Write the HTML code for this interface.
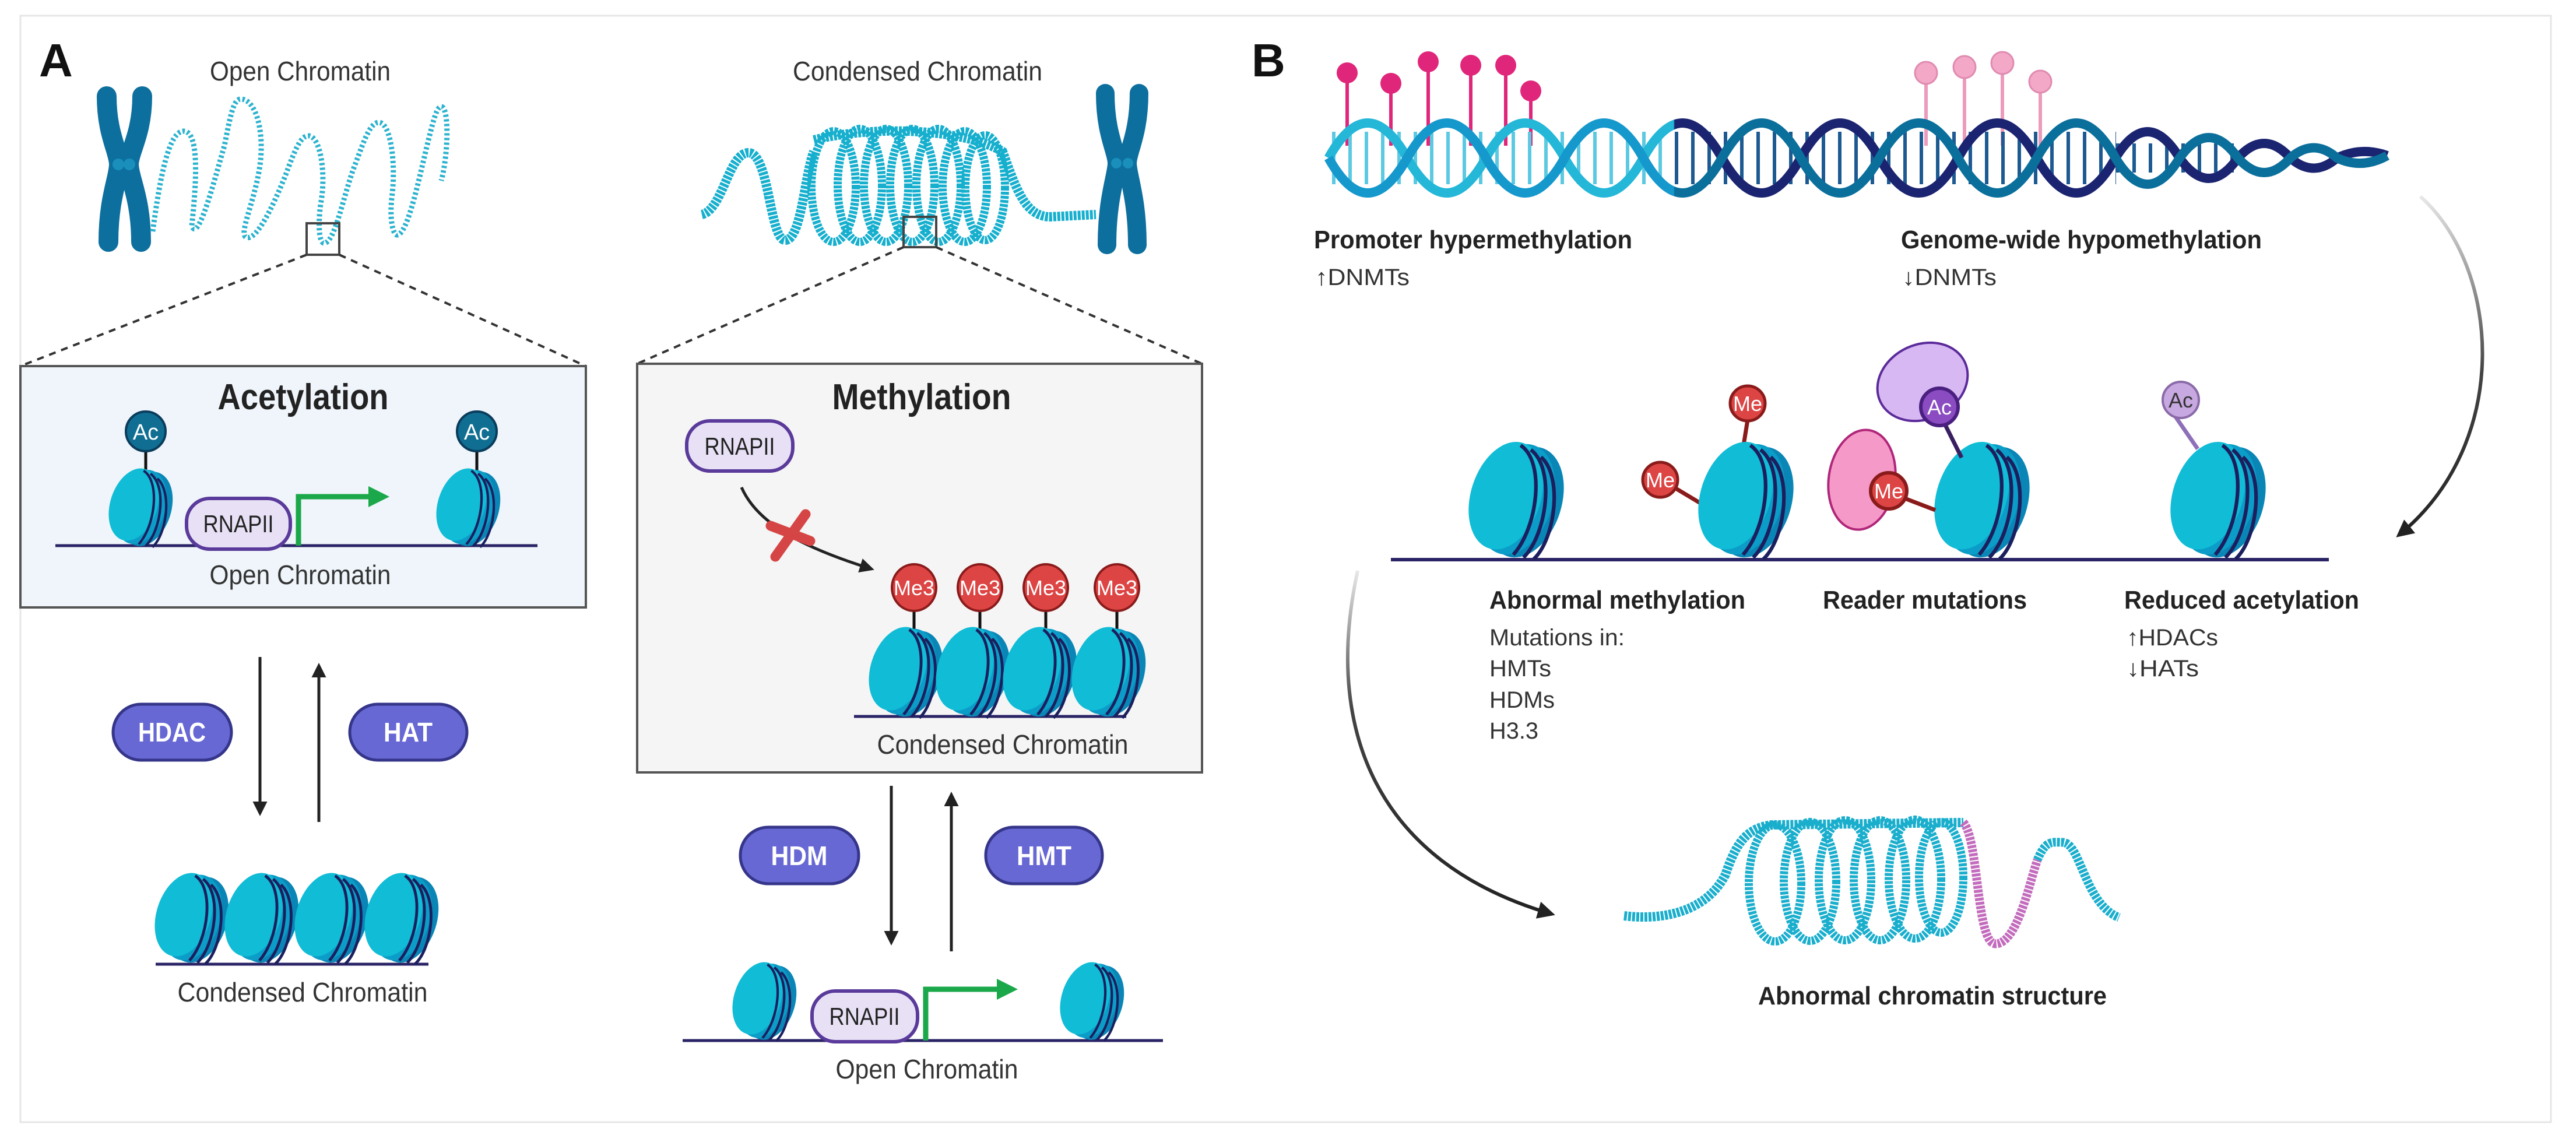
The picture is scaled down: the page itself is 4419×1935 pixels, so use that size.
<!DOCTYPE html>
<html><head><meta charset="utf-8"><style>
html,body{margin:0;padding:0;background:#fff;}
svg{display:block;}
text{font-family:"Liberation Sans",sans-serif;}
</style></head><body>
<svg width="4419" height="1935" viewBox="0 0 4419 1935" xmlns="http://www.w3.org/2000/svg">
<defs>
<g id="nuc">
 <ellipse cx="16" cy="6" rx="50" ry="78" transform="rotate(18 16 6)" fill="#0a86b6"/>
 <ellipse cx="4" cy="2" rx="50" ry="78" transform="rotate(18 4 2)" fill="#0b9dc8"/>
 <ellipse cx="-10" cy="-3" rx="48" ry="76" transform="rotate(18 -10 -3)" fill="#10bcd6"/>
 <path d="M10 -72 C44 -50 34 40 0 78" fill="none" stroke="#1b1f5e" stroke-width="5"/>
 <path d="M24 -66 C58 -40 46 50 14 82" fill="none" stroke="#1b1f5e" stroke-width="5"/>
 <path d="M38 -56 C68 -30 58 56 28 84" fill="none" stroke="#1b1f5e" stroke-width="5"/>
</g>
<marker id="ah" viewBox="0 0 10 10" refX="8" refY="5" markerWidth="5" markerHeight="5" orient="auto"><path d="M0 0 L10 5 L0 10 z" fill="#222"/></marker>
<marker id="gh" viewBox="0 0 10 10" refX="5" refY="5" markerWidth="4" markerHeight="4" orient="auto"><path d="M0 0 L10 5 L0 10 z" fill="#1aa84a"/></marker>
<linearGradient id="s1" gradientUnits="userSpaceOnUse" x1="2279" y1="0" x2="4095" y2="0">
 <stop offset="0" stop-color="#24b7d8"/><stop offset="0.326" stop-color="#24b7d8"/><stop offset="0.327" stop-color="#1b2470"/><stop offset="1" stop-color="#1b2470"/></linearGradient>
<linearGradient id="s2" gradientUnits="userSpaceOnUse" x1="2279" y1="0" x2="4095" y2="0">
 <stop offset="0" stop-color="#1598cc"/><stop offset="0.326" stop-color="#1598cc"/><stop offset="0.327" stop-color="#0b6f9c"/><stop offset="1" stop-color="#0b6f9c"/></linearGradient>
<linearGradient id="rg" gradientUnits="userSpaceOnUse" x1="2279" y1="0" x2="4095" y2="0">
 <stop offset="0" stop-color="#5cc9e2"/><stop offset="0.326" stop-color="#5cc9e2"/><stop offset="0.327" stop-color="#1d5a92"/><stop offset="1" stop-color="#1d5a92"/></linearGradient>
<linearGradient id="ag" gradientUnits="userSpaceOnUse" x1="0" y1="337" x2="0" y2="933">
 <stop offset="0" stop-color="#e8e8e8"/><stop offset="0.5" stop-color="#444"/><stop offset="1" stop-color="#222"/></linearGradient>
<linearGradient id="ag2" gradientUnits="userSpaceOnUse" x1="0" y1="979" x2="0" y2="1574">
 <stop offset="0" stop-color="#e8e8e8"/><stop offset="0.4" stop-color="#444"/><stop offset="1" stop-color="#222"/></linearGradient>
</defs>

<rect x="35" y="27" width="4341" height="1898" fill="none" stroke="#e6e6e6" stroke-width="3"/>

<!-- ===== Panel A ===== -->
<text x="67" y="131" font-size="80" font-weight="bold" fill="#111">A</text>
<text x="515" y="138" font-size="46" fill="#333" text-anchor="middle" textLength="310" lengthAdjust="spacingAndGlyphs">Open Chromatin</text>
<text x="1574" y="138" font-size="46" fill="#333" text-anchor="middle" textLength="428" lengthAdjust="spacingAndGlyphs">Condensed Chromatin</text>

<path d="M183 165 C183 230 204 260 204 282 C204 305 186 340 186 415" stroke="#0d6f9e" stroke-width="34" stroke-linecap="round" fill="none"/>
<path d="M244 165 C244 230 221 260 221 282 C221 305 242 340 242 415" stroke="#0d6f9e" stroke-width="34" stroke-linecap="round" fill="none"/>
<circle cx="203" cy="282" r="10" fill="#1a8fbc"/><circle cx="222" cy="282" r="10" fill="#1a8fbc"/>
<path d="M262 397 C275 300 290 225 315 225 C345 225 335 330 329 387 C340 420 370 300 385 250 C395 200 400 170 413 170 C440 170 455 230 445 290 C435 350 410 400 422 407 C440 415 470 350 490 300 C505 260 515 233 529 233 C550 233 560 300 550 350 C545 390 548 417 556 417 C575 417 590 330 610 280 C625 240 635 210 650 210 C670 210 680 280 672 340 C668 380 675 403 681 403 C700 403 720 300 735 240 C745 200 750 183 757 183 C770 183 770 260 757 310" fill="none" stroke="#2bb2cf" stroke-width="9" stroke-dasharray="4 4"/>
<rect x="526" y="383" width="56" height="54" fill="none" stroke="#444" stroke-width="4"/>
<line x1="526" y1="437" x2="35" y2="628" stroke="#333" stroke-width="4" stroke-dasharray="12 10"/>
<line x1="582" y1="437" x2="1005" y2="628" stroke="#333" stroke-width="4" stroke-dasharray="12 10"/>

<rect x="35" y="628" width="970" height="414" fill="#eff5fa" stroke="#555" stroke-width="4"/>
<text x="520" y="702" font-size="62" font-weight="bold" fill="#222" text-anchor="middle" textLength="293" lengthAdjust="spacingAndGlyphs">Acetylation</text>
<line x1="95" y1="936" x2="922" y2="936" stroke="#2a2466" stroke-width="5"/>
<line x1="250" y1="770" x2="250" y2="815" stroke="#111" stroke-width="5"/>
<line x1="818" y1="770" x2="818" y2="815" stroke="#111" stroke-width="5"/>
<use href="#nuc" transform="translate(238 868) scale(0.84)"/>
<use href="#nuc" transform="translate(800 868) scale(0.84)"/>
<circle cx="250" cy="740" r="34" fill="#0f6e92" stroke="#0a3c5c" stroke-width="4"/>
<text x="250" y="754" font-size="38" fill="#fff" text-anchor="middle">Ac</text>
<circle cx="818" cy="740" r="34" fill="#0f6e92" stroke="#0a3c5c" stroke-width="4"/>
<text x="818" y="754" font-size="38" fill="#fff" text-anchor="middle">Ac</text>
<rect x="320" y="855" width="178" height="87" rx="40" fill="#e8e1f6" stroke="#5a3a9a" stroke-width="6"/>
<text x="409" y="913" font-size="42" fill="#222" text-anchor="middle" textLength="121" lengthAdjust="spacingAndGlyphs">RNAPII</text>
<path d="M512 936 L512 852 L650 852" fill="none" stroke="#1aa84a" stroke-width="9" marker-end="url(#gh)"/>
<text x="515" y="1002" font-size="46" fill="#333" text-anchor="middle" textLength="311" lengthAdjust="spacingAndGlyphs">Open Chromatin</text>

<line x1="446" y1="1127" x2="446" y2="1395" stroke="#222" stroke-width="5" marker-end="url(#ah)"/>
<line x1="547" y1="1410" x2="547" y2="1142" stroke="#222" stroke-width="5" marker-end="url(#ah)"/>
<rect x="194" y="1208" width="203" height="96" rx="48" fill="#6768d4" stroke="#35358a" stroke-width="5"/>
<text x="295" y="1272" font-size="46" font-weight="bold" fill="#fff" text-anchor="middle" textLength="116" lengthAdjust="spacingAndGlyphs">HDAC</text>
<rect x="600" y="1208" width="201" height="96" rx="48" fill="#6768d4" stroke="#35358a" stroke-width="5"/>
<text x="700" y="1272" font-size="46" font-weight="bold" fill="#fff" text-anchor="middle" textLength="84" lengthAdjust="spacingAndGlyphs">HAT</text>

<line x1="267" y1="1654" x2="735" y2="1654" stroke="#2a2466" stroke-width="5"/>
<use href="#nuc" transform="translate(325 1572) scale(0.97)"/>
<use href="#nuc" transform="translate(445 1572) scale(0.97)"/>
<use href="#nuc" transform="translate(565 1572) scale(0.97)"/>
<use href="#nuc" transform="translate(685 1572) scale(0.97)"/>
<text x="519" y="1718" font-size="46" fill="#333" text-anchor="middle" textLength="429" lengthAdjust="spacingAndGlyphs">Condensed Chromatin</text>

<path d="M1204 368 C1240 360 1250 262 1284 262 C1320 262 1320 412 1347 412 C1375 412 1380 300 1396 260" fill="none" stroke="#16afce" stroke-width="16" stroke-dasharray="5 2"/>
<g fill="none" stroke="#16afce" stroke-width="14" stroke-dasharray="5 2">
 <ellipse cx="1430" cy="320" rx="38" ry="95"/>
 <ellipse cx="1475" cy="318" rx="38" ry="97"/>
 <ellipse cx="1520" cy="318" rx="38" ry="97"/>
 <ellipse cx="1565" cy="318" rx="38" ry="97"/>
 <ellipse cx="1610" cy="318" rx="38" ry="97"/>
 <ellipse cx="1655" cy="320" rx="38" ry="95"/>
 <ellipse cx="1690" cy="322" rx="34" ry="90"/>
</g>
<path d="M1396 240 C1500 215 1650 220 1720 260 C1745 330 1760 370 1800 372 L1880 368" fill="none" stroke="#16afce" stroke-width="16" stroke-dasharray="5 2"/>
<path d="M1896 160 C1896 230 1916 260 1916 280 C1916 300 1899 340 1899 420" stroke="#0d6f9e" stroke-width="32" stroke-linecap="round" fill="none"/>
<path d="M1954 160 C1954 230 1934 260 1934 280 C1934 300 1951 340 1951 420" stroke="#0d6f9e" stroke-width="32" stroke-linecap="round" fill="none"/>
<circle cx="1915" cy="280" r="9" fill="#1a8fbc"/><circle cx="1935" cy="280" r="9" fill="#1a8fbc"/>
<rect x="1550" y="372" width="56" height="52" fill="none" stroke="#444" stroke-width="4"/>
<line x1="1550" y1="424" x2="1093" y2="624" stroke="#333" stroke-width="4" stroke-dasharray="12 10"/>
<line x1="1606" y1="424" x2="2062" y2="624" stroke="#333" stroke-width="4" stroke-dasharray="12 10"/>

<rect x="1093" y="624" width="969" height="701" fill="#f5f5f5" stroke="#555" stroke-width="4"/>
<text x="1581" y="702" font-size="62" font-weight="bold" fill="#222" text-anchor="middle" textLength="307" lengthAdjust="spacingAndGlyphs">Methylation</text>
<rect x="1178" y="722" width="182" height="86" rx="40" fill="#e8e1f6" stroke="#5a3a9a" stroke-width="6"/>
<text x="1269" y="780" font-size="42" fill="#222" text-anchor="middle" textLength="121" lengthAdjust="spacingAndGlyphs">RNAPII</text>
<path d="M1272 836 C1300 900 1380 940 1495 976" fill="none" stroke="#222" stroke-width="5" marker-end="url(#ah)"/>
<line x1="1330" y1="955" x2="1382" y2="882" stroke="#d64545" stroke-width="17" stroke-linecap="round"/>
<line x1="1322" y1="902" x2="1390" y2="928" stroke="#d64545" stroke-width="17" stroke-linecap="round"/>
<line x1="1465" y1="1229" x2="1932" y2="1229" stroke="#2a2466" stroke-width="5"/>
<g stroke="#111" stroke-width="5">
<line x1="1568" y1="1040" x2="1568" y2="1085"/><line x1="1681" y1="1040" x2="1681" y2="1085"/><line x1="1794" y1="1040" x2="1794" y2="1085"/><line x1="1916" y1="1040" x2="1916" y2="1085"/></g>
<use href="#nuc" transform="translate(1550 1150) scale(0.97)"/>
<use href="#nuc" transform="translate(1665 1150) scale(0.97)"/>
<use href="#nuc" transform="translate(1780 1150) scale(0.97)"/>
<use href="#nuc" transform="translate(1898 1150) scale(0.97)"/>
<g fill="#dd4444" stroke="#8a1b1b" stroke-width="4">
<ellipse cx="1568" cy="1008" rx="38" ry="40"/><ellipse cx="1681" cy="1008" rx="38" ry="40"/><ellipse cx="1794" cy="1008" rx="38" ry="40"/><ellipse cx="1916" cy="1008" rx="38" ry="40"/></g>
<g font-size="36" fill="#fff" text-anchor="middle">
<text x="1568" y="1021">Me3</text><text x="1681" y="1021">Me3</text><text x="1794" y="1021">Me3</text><text x="1916" y="1021">Me3</text></g>
<text x="1720" y="1293" font-size="46" fill="#333" text-anchor="middle" textLength="431" lengthAdjust="spacingAndGlyphs">Condensed Chromatin</text>

<line x1="1529" y1="1348" x2="1529" y2="1617" stroke="#222" stroke-width="5" marker-end="url(#ah)"/>
<line x1="1632" y1="1632" x2="1632" y2="1363" stroke="#222" stroke-width="5" marker-end="url(#ah)"/>
<rect x="1270" y="1419" width="203" height="97" rx="48" fill="#6768d4" stroke="#35358a" stroke-width="5"/>
<text x="1371" y="1484" font-size="46" font-weight="bold" fill="#fff" text-anchor="middle" textLength="97" lengthAdjust="spacingAndGlyphs">HDM</text>
<rect x="1691" y="1419" width="200" height="97" rx="48" fill="#6768d4" stroke="#35358a" stroke-width="5"/>
<text x="1791" y="1484" font-size="46" font-weight="bold" fill="#fff" text-anchor="middle" textLength="94" lengthAdjust="spacingAndGlyphs">HMT</text>

<line x1="1171" y1="1785" x2="1995" y2="1785" stroke="#2a2466" stroke-width="5"/>
<use href="#nuc" transform="translate(1308 1715) scale(0.84)"/>
<use href="#nuc" transform="translate(1870 1715) scale(0.84)"/>
<rect x="1393" y="1700" width="181" height="87" rx="40" fill="#e8e1f6" stroke="#5a3a9a" stroke-width="6"/>
<text x="1483" y="1758" font-size="42" fill="#222" text-anchor="middle" textLength="121" lengthAdjust="spacingAndGlyphs">RNAPII</text>
<path d="M1588 1785 L1588 1697 L1728 1697" fill="none" stroke="#1aa84a" stroke-width="9" marker-end="url(#gh)"/>
<text x="1590" y="1850" font-size="46" fill="#333" text-anchor="middle" textLength="313" lengthAdjust="spacingAndGlyphs">Open Chromatin</text>

<!-- ===== Panel B ===== -->
<text x="2147" y="131" font-size="80" font-weight="bold" fill="#111">B</text>

<g stroke="#e0267a" stroke-width="6">
<line x1="2311" y1="125" x2="2311" y2="250"/><line x1="2386" y1="143" x2="2386" y2="250"/><line x1="2450" y1="106" x2="2450" y2="250"/><line x1="2523" y1="112" x2="2523" y2="250"/><line x1="2583" y1="112" x2="2583" y2="250"/><line x1="2626" y1="156" x2="2626" y2="250"/></g>
<g fill="#e0267a"><circle cx="2311" cy="125" r="18"/><circle cx="2386" cy="143" r="18"/><circle cx="2450" cy="106" r="18"/><circle cx="2523" cy="112" r="18"/><circle cx="2583" cy="112" r="18"/><circle cx="2626" cy="156" r="18"/></g>
<g stroke="#eb9bbb" stroke-width="6">
<line x1="3304" y1="125" x2="3304" y2="250"/><line x1="3370" y1="115" x2="3370" y2="250"/><line x1="3435" y1="108" x2="3435" y2="250"/><line x1="3500" y1="140" x2="3500" y2="250"/></g>
<g fill="#f3a8c8" stroke="#e08bb0" stroke-width="3"><circle cx="3304" cy="125" r="19"/><circle cx="3370" cy="115" r="19"/><circle cx="3435" cy="108" r="19"/><circle cx="3500" cy="140" r="19"/></g>

<line x1="2285" y1="271" x2="3630" y2="271" stroke="url(#rg)" stroke-width="90" stroke-dasharray="6 22"/>
<line x1="3630" y1="271" x2="3840" y2="271" stroke="#1d5a92" stroke-width="50" stroke-dasharray="6 22"/>
<path d="M2279 271 q67 -120 135 0 t135 0 t135 0 t135 0 t135 0 t135 0 t135 0 t135 0 t135 0 t135 0 q55 -90 110 0 q50 70 100 0 q45 -50 90 0 q40 35 80 0 q43 -20 86 -4" fill="none" stroke="url(#s1)" stroke-width="16"/>
<path d="M2279 271 q67 120 135 0 t135 0 t135 0 t135 0 t135 0 t135 0 t135 0 t135 0 t135 0 t135 0 q55 90 110 0 q50 -70 100 0 q45 50 90 0 q40 -35 80 0 q43 20 86 -4" fill="none" stroke="url(#s2)" stroke-width="16"/>

<text x="2254" y="426" font-size="44" font-weight="bold" fill="#222" textLength="546" lengthAdjust="spacingAndGlyphs">Promoter hypermethylation</text>
<text x="2256" y="489" font-size="40" fill="#333" textLength="162" lengthAdjust="spacingAndGlyphs">↑DNMTs</text>
<text x="3261" y="426" font-size="44" font-weight="bold" fill="#222" textLength="619" lengthAdjust="spacingAndGlyphs">Genome-wide hypomethylation</text>
<text x="3263" y="489" font-size="40" fill="#333" textLength="162" lengthAdjust="spacingAndGlyphs">↓DNMTs</text>

<path d="M4152 337 C4290 460 4310 760 4115 918" fill="none" stroke="url(#ag)" stroke-width="6" marker-end="url(#ah)"/>

<line x1="2386" y1="960" x2="3995" y2="960" stroke="#2a2466" stroke-width="6"/>
<line x1="2998" y1="720" x2="2990" y2="770" stroke="#8a1b1b" stroke-width="7"/>
<line x1="2870" y1="835" x2="2920" y2="865" stroke="#8a1b1b" stroke-width="7"/>
<line x1="3730" y1="712" x2="3770" y2="770" stroke="#8e70b8" stroke-width="7"/>
<use href="#nuc" transform="translate(2596 854) scale(1.25)"/>
<use href="#nuc" transform="translate(2990 854) scale(1.25)"/>
<use href="#nuc" transform="translate(3395 854) scale(1.25)"/>
<use href="#nuc" transform="translate(3800 854) scale(1.25)"/>
<circle cx="2998" cy="692" r="30" fill="#dd4444" stroke="#8a1b1b" stroke-width="5"/>
<text x="2998" y="705" font-size="36" fill="#fff" text-anchor="middle">Me</text>
<circle cx="2848" cy="823" r="30" fill="#dd4444" stroke="#8a1b1b" stroke-width="5"/>
<text x="2848" y="836" font-size="36" fill="#fff" text-anchor="middle">Me</text>
<ellipse cx="3194" cy="823" rx="57" ry="86" transform="rotate(8 3194 823)" fill="#f59ac8" stroke="#b0267a" stroke-width="4"/>
<line x1="3260" y1="852" x2="3320" y2="875" stroke="#8a1b1b" stroke-width="7"/>
<circle cx="3240" cy="842" r="31" fill="#dd4444" stroke="#8a1b1b" stroke-width="6"/>
<text x="3240" y="855" font-size="36" fill="#fff" text-anchor="middle">Me</text>
<ellipse cx="3298" cy="655" rx="80" ry="64" transform="rotate(-25 3298 655)" fill="#d7b8f2" stroke="#5b2a9a" stroke-width="4"/>
<line x1="3335" y1="725" x2="3365" y2="785" stroke="#3a1f60" stroke-width="7"/>
<circle cx="3327" cy="698" r="32" fill="#8a4cc0" stroke="#4a1f80" stroke-width="6"/>
<text x="3327" y="711" font-size="36" fill="#fff" text-anchor="middle">Ac</text>
<circle cx="3741" cy="686" r="31" fill="#c7a8e0" stroke="#8a6aa8" stroke-width="4"/>
<text x="3741" y="699" font-size="36" fill="#333" text-anchor="middle">Ac</text>

<text x="2555" y="1044" font-size="44" font-weight="bold" fill="#222" textLength="439" lengthAdjust="spacingAndGlyphs">Abnormal methylation</text>
<text x="3127" y="1044" font-size="44" font-weight="bold" fill="#222" textLength="350" lengthAdjust="spacingAndGlyphs">Reader mutations</text>
<text x="3644" y="1044" font-size="44" font-weight="bold" fill="#222" textLength="403" lengthAdjust="spacingAndGlyphs">Reduced acetylation</text>
<g font-size="40" fill="#333">
<text x="2555" y="1107" textLength="232" lengthAdjust="spacingAndGlyphs">Mutations in:</text>
<text x="2555" y="1160" textLength="106" lengthAdjust="spacingAndGlyphs">HMTs</text>
<text x="2555" y="1214" textLength="112" lengthAdjust="spacingAndGlyphs">HDMs</text>
<text x="2555" y="1267" textLength="84" lengthAdjust="spacingAndGlyphs">H3.3</text>
<text x="3648" y="1107" textLength="157" lengthAdjust="spacingAndGlyphs">↑HDACs</text>
<text x="3648" y="1160" textLength="124" lengthAdjust="spacingAndGlyphs">↓HATs</text>
</g>

<path d="M2329 979 C2270 1250 2360 1480 2662 1568" fill="none" stroke="url(#ag2)" stroke-width="6" marker-end="url(#ah)"/>

<path d="M2786 1571 C2860 1580 2930 1560 2960 1500 C2980 1440 3000 1420 3040 1415 L3368 1411" fill="none" stroke="#1aaecd" stroke-width="16" stroke-dasharray="5 2"/>
<g fill="none" stroke="#1aaecd" stroke-width="14" stroke-dasharray="5 2">
 <ellipse cx="3045" cy="1515" rx="45" ry="100"/>
 <ellipse cx="3105" cy="1512" rx="45" ry="102"/>
 <ellipse cx="3165" cy="1510" rx="45" ry="103"/>
 <ellipse cx="3225" cy="1510" rx="45" ry="103"/>
 <ellipse cx="3285" cy="1508" rx="45" ry="102"/>
 <ellipse cx="3330" cy="1505" rx="38" ry="95"/>
</g>
<path d="M3368 1411 C3395 1440 3390 1619 3423 1619 C3460 1619 3480 1520 3495 1475" fill="none" stroke="#c36bbd" stroke-width="15" stroke-dasharray="5 2"/>
<path d="M3495 1475 C3510 1440 3520 1445 3538 1445 C3570 1445 3575 1550 3635 1574" fill="none" stroke="#1aaecd" stroke-width="15" stroke-dasharray="5 2"/>
<text x="3315" y="1723" font-size="44" font-weight="bold" fill="#222" text-anchor="middle" textLength="598" lengthAdjust="spacingAndGlyphs">Abnormal chromatin structure</text>
</svg>
</body></html>
